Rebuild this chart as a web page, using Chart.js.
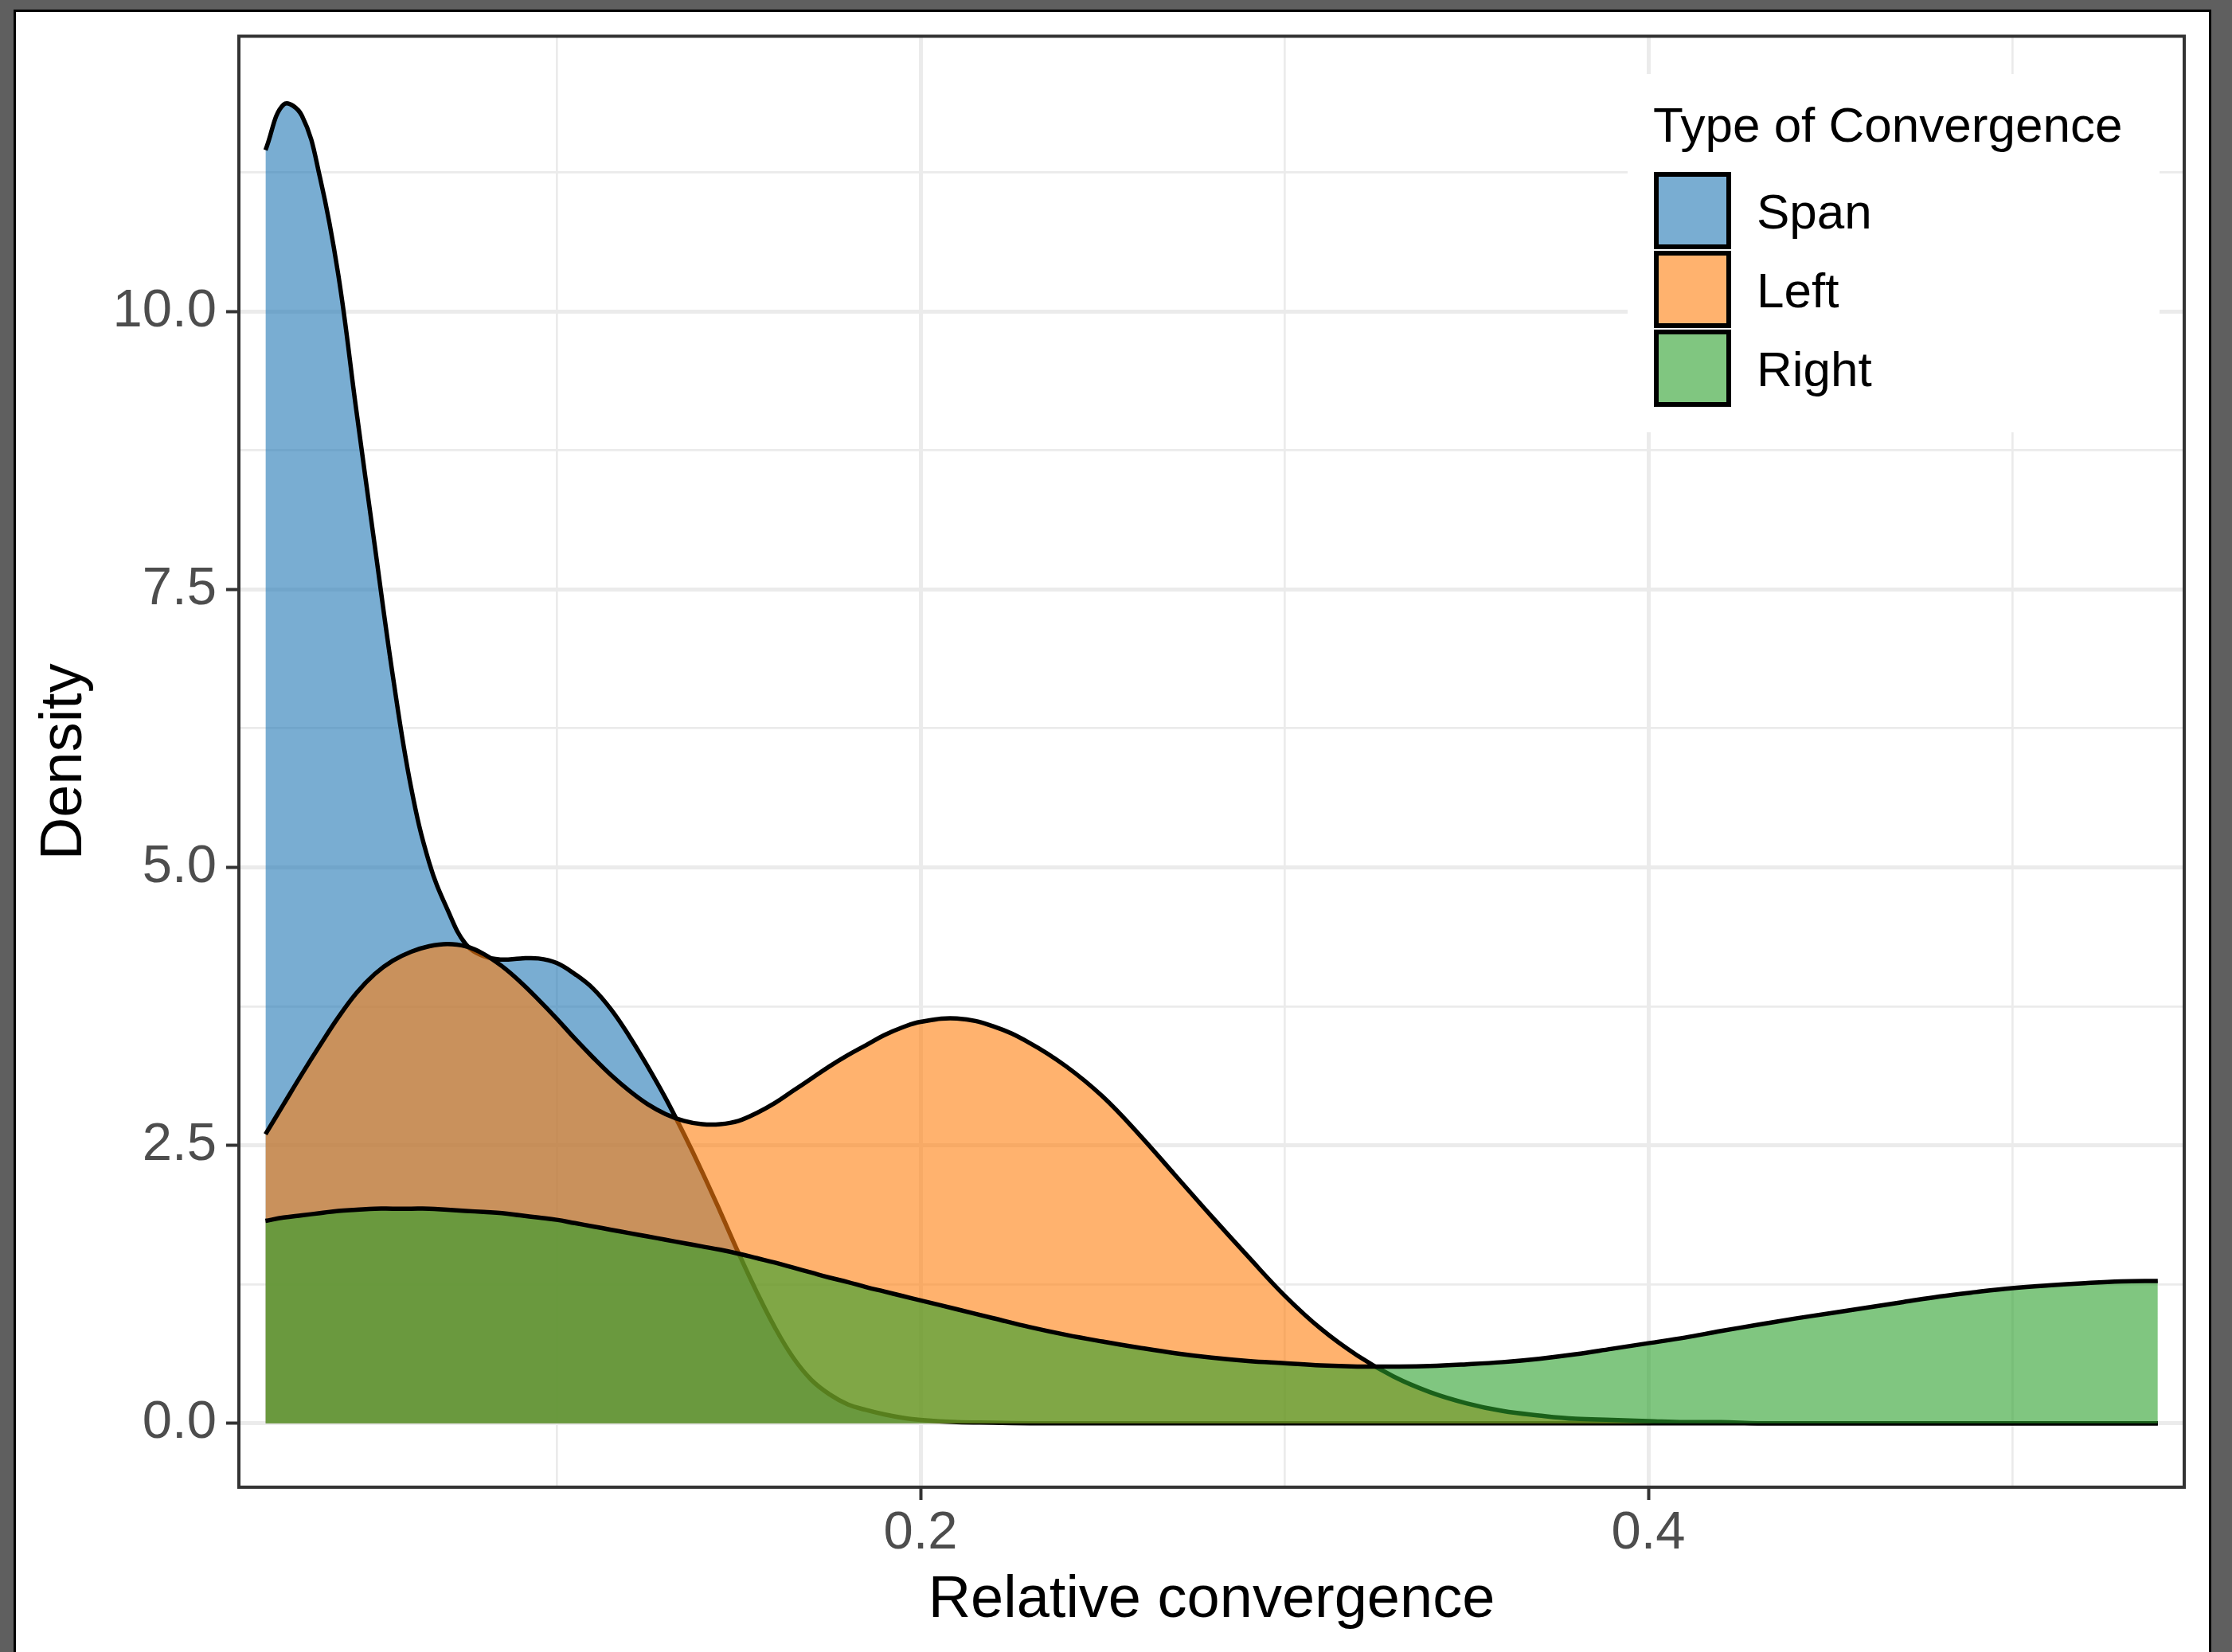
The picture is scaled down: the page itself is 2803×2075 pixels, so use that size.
<!DOCTYPE html>
<html>
<head>
<meta charset="utf-8">
<title>Type of Convergence - densidade</title>
<script src="https://cdn.jsdelivr.net/npm/chart.js@4.4.0/dist/chart.umd.min.js"></script>
<style>
  html, body { margin: 0; padding: 0; width: 2803px; height: 2075px; overflow: hidden; background: #5f5f5f; }
  #frame { position: absolute; left: 17px; top: 12px; width: 2760px; height: 2100px; box-sizing: border-box;
           border: 3px solid #000; border-bottom: none; background: #fff; }
  #myChart { position: absolute; left: 0; top: 0; }
</style>
</head>
<body>
<div id="frame"></div>
<canvas id="myChart" width="2803" height="2075"></canvas>
<script>
// Valores (convergência relativa x densidade)
var relConv = [0.020, 0.025, 0.030, 0.035, 0.040, 0.045, 0.050, 0.055, 0.060, 0.065,
               0.070, 0.075, 0.080, 0.085, 0.090, 0.095, 0.100, 0.105, 0.110, 0.115,
               0.120, 0.125, 0.130, 0.135, 0.140, 0.145, 0.150, 0.155, 0.160, 0.165,
               0.170, 0.175, 0.180, 0.185, 0.190, 0.195, 0.200,
               0.21, 0.22, 0.23, 0.24, 0.25, 0.26, 0.27, 0.28, 0.29, 0.30,
               0.31, 0.32, 0.33, 0.34, 0.35, 0.36, 0.37, 0.38, 0.39, 0.40,
               0.41, 0.42, 0.43, 0.44, 0.45, 0.46, 0.47, 0.48, 0.49, 0.50,
               0.51, 0.52, 0.53, 0.54];

var spanDensity = [11.45, 11.86, 11.76, 11.20, 10.33, 9.10, 7.90, 6.72, 5.72, 5.04,
                   4.62, 4.31, 4.20, 4.17, 4.18, 4.18, 4.14, 4.04, 3.91, 3.72,
                   3.48, 3.21, 2.92, 2.60, 2.26, 1.90, 1.53, 1.18, 0.86, 0.59,
                   0.39, 0.26, 0.17, 0.12, 0.08, 0.05, 0.03,
                   0.01, 0.005, 0, 0, 0, 0, 0, 0, 0, 0,
                   0, 0, 0, 0, 0, 0, 0, 0, 0, 0,
                   0, 0, 0, 0, 0, 0, 0, 0, 0, 0,
                   0, 0, 0, 0];

var leftDensity = [2.60, 2.87, 3.14, 3.40, 3.65, 3.87, 4.04, 4.16, 4.24, 4.29,
                   4.31, 4.29, 4.22, 4.11, 3.97, 3.81, 3.64, 3.46, 3.29, 3.13,
                   2.99, 2.87, 2.78, 2.72, 2.69, 2.69, 2.72, 2.79, 2.88, 2.99,
                   3.10, 3.21, 3.31, 3.40, 3.49, 3.56, 3.61,
                   3.64, 3.57, 3.42, 3.21, 2.94, 2.60, 2.23, 1.86, 1.50, 1.15,
                   0.85, 0.61, 0.42, 0.28, 0.18, 0.11, 0.07, 0.04, 0.03, 0.02,
                   0.01, 0.01, 0, 0, 0, 0, 0, 0, 0, 0,
                   0, 0, 0, 0];

var rightDensity = [1.82, 1.85, 1.87, 1.89, 1.91, 1.92, 1.93, 1.93, 1.93, 1.93,
                    1.92, 1.91, 1.90, 1.89, 1.87, 1.85, 1.83, 1.80, 1.77, 1.74,
                    1.71, 1.68, 1.65, 1.62, 1.59, 1.56, 1.525, 1.485, 1.445, 1.40,
                    1.355, 1.31, 1.27, 1.225, 1.185, 1.145, 1.105,
                    1.025, 0.945, 0.865, 0.795, 0.735, 0.68, 0.63, 0.59, 0.56, 0.54,
                    0.52, 0.51, 0.51, 0.515, 0.53, 0.55, 0.58, 0.62, 0.67, 0.72,
                    0.77, 0.83, 0.885, 0.94, 0.99, 1.04, 1.09, 1.14, 1.18, 1.215,
                    1.24, 1.26, 1.275, 1.28];

var seriesNames = ['Span', 'Left', 'Right'];
var legendTitle = 'Type of Convergence';
var xTickLabels = ['0.2', '0.4'];
var yTickLabels = ['0.0', '2.5', '5.0', '7.5', '10.0'];

Chart.defaults.font.family = '"Liberation Sans", Arial, Helvetica, sans-serif';

function pontos(valores) {
    return relConv.map(function (x, i) { return { x: x, y: valores[i] }; });
}

function ehMaiorX(v) { return xTickLabels.indexOf(v.toFixed(1)) >= 0 && Math.abs(v * 10 - Math.round(v * 10)) < 1e-6; }
function ehMaiorY(v) { return yTickLabels.indexOf(v.toFixed(1)) >= 0; }

// Borda do painel e legenda dentro do painel
var painelPlugin = {
    id: 'painelLegenda',
    afterDraw: function (chart) {
        var ctx = chart.ctx;
        var a = chart.chartArea;
        ctx.save();
        ctx.strokeStyle = '#333333';
        ctx.lineWidth = 4;
        ctx.strokeRect(a.left, a.top, a.right - a.left, a.bottom - a.top);

        ctx.fillStyle = '#ffffff';
        ctx.fillRect(2044, 93, 668, 450);
        ctx.fillStyle = '#000000';
        ctx.font = '62px "Liberation Sans", Arial, sans-serif';
        ctx.textBaseline = 'alphabetic';
        ctx.textAlign = 'left';
        ctx.fillText(legendTitle, 2076, 178);

        chart.data.datasets.forEach(function (ds, i) {
            var y = 219 + i * 99;
            ctx.fillStyle = ds.backgroundColor;
            ctx.fillRect(2080, y, 91, 91);
            ctx.lineWidth = 6;
            ctx.strokeStyle = '#000000';
            ctx.strokeRect(2080, y, 91, 91);
            ctx.fillStyle = '#000000';
            ctx.fillText(ds.label, 2206, y + 68);
        });
        ctx.restore();
    }
};

var ctx = document.getElementById('myChart').getContext('2d');
var myChart = new Chart(ctx, {
    type: 'line',
    data: {
        datasets: [
            { label: seriesNames[0], data: pontos(spanDensity), backgroundColor: 'rgba(31,119,180,0.6)', order: 3 },
            { label: seriesNames[1], data: pontos(leftDensity), backgroundColor: 'rgba(255,127,14,0.6)', order: 2 },
            { label: seriesNames[2], data: pontos(rightDensity), backgroundColor: 'rgba(44,160,44,0.6)', order: 1 }
        ].map(function (ds) {
            ds.borderColor = '#000000';
            ds.borderWidth = 5.5;
            ds.pointRadius = 0;
            ds.fill = 'origin';
            ds.tension = 0.4;
            return ds;
        })
    },
    options: {
        responsive: false,
        animation: false,
        devicePixelRatio: 1,
        events: [],
        layout: { padding: { left: 20, top: 45.5, right: 60, bottom: 0 } },
        plugins: { legend: { display: false }, tooltip: { enabled: false } },
        scales: {
            x: {
                type: 'linear',
                min: 0.01269,
                max: 0.54726,
                border: { display: false },
                grid: {
                    color: '#ebebeb',
                    lineWidth: function (c) { return c.tick && ehMaiorX(c.tick.value) ? 5 : 2.7; },
                    tickColor: function (c) { return c.tick && ehMaiorX(c.tick.value) ? '#333333' : 'rgba(0,0,0,0)'; },
                    tickWidth: 4,
                    tickLength: 16
                },
                ticks: {
                    stepSize: 0.1,
                    includeBounds: false,
                    autoSkip: false,
                    maxRotation: 0,
                    padding: 2,
                    color: '#4d4d4d',
                    font: { size: 67 },
                    callback: function (v) { return ehMaiorX(v) ? v.toFixed(1) : ''; }
                },
                title: {
                    display: true,
                    text: 'Relative convergence',
                    color: '#000000',
                    font: { size: 74 },
                    padding: { top: 0, bottom: 20 }
                },
                afterFit: function (s) { s.height = 207; s.paddingLeft = 0; s.paddingRight = 0; }
            },
            y: {
                type: 'linear',
                min: -0.575,
                max: 12.474,
                border: { display: false },
                grid: {
                    color: '#ebebeb',
                    lineWidth: function (c) { return c.tick && ehMaiorY(c.tick.value) ? 5 : 2.7; },
                    tickColor: function (c) { return c.tick && ehMaiorY(c.tick.value) ? '#333333' : 'rgba(0,0,0,0)'; },
                    tickWidth: 4,
                    tickLength: 16
                },
                ticks: {
                    stepSize: 1.25,
                    includeBounds: false,
                    autoSkip: false,
                    padding: 12,
                    color: '#4d4d4d',
                    font: { size: 67 },
                    callback: function (v) { return ehMaiorY(v) ? v.toFixed(1) : ''; }
                },
                title: {
                    display: true,
                    text: 'Density',
                    color: '#000000',
                    font: { size: 74 },
                    padding: { top: 17, bottom: 0 }
                },
                afterFit: function (s) { s.width = 280; s.paddingTop = 0; s.paddingBottom = 0; }
            }
        }
    },
    plugins: [painelPlugin]
});
</script>
</body>
</html>
